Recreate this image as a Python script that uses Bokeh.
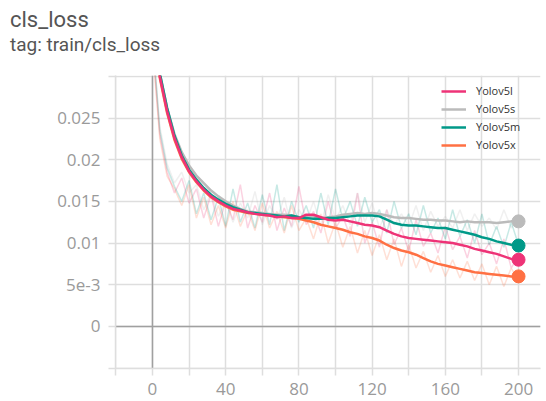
from bokeh.plotting import figure
from bokeh.models import Range1d, FixedTicker, Span, Legend, LegendItem, Div
from bokeh.layouts import column
from bokeh.embed import file_html
from bokeh.resources import INLINE

# ---------------- data ----------------
steps = list(range(0, 201, 4))
names = ["Yolov5l", "Yolov5s", "Yolov5m", "Yolov5x"]
colors = ["#ee3377", "#bbbbbb", "#009988", "#ff7043"]
title_text = "cls_loss"
subtitle_text = "tag: train/cls_loss"

smooth_l = [.0360, .0300, .0258, .0226, .0203, .0186, .0174, .0164, .0156, .0150, .0145, .0141, .0139, .0137, .0135, .0134, .0133, .0131, .0132, .0130, .0130,
            .0134, .0134, .0131, .0128, .0127, .0128, .0126, .0124, .0122, .0121, .0119, .0115, .0111, .0108, .0106, .0105, .0104, .0103, .0102, .0101,
            .0100, .0098, .0096, .0093, .0091, .0089, .0087, .0084, .0081, .0080]
smooth_s = [.0362, .0303, .0262, .0231, .0209, .0193, .0181, .0172, .0163, .0156, .0150, .0145, .0141, .0138, .0137, .0136, .0135, .0134, .0134, .0133, .0131,
            .0132, .0131, .0130, .0131, .0132, .0134, .0135, .0136, .0135, .0136, .0135, .0133, .0131, .0130, .0130, .0129, .0128, .0128, .0127, .0127,
            .0126, .0125, .0126, .0125, .0125, .0125, .0124, .0125, .0126, .0126]
smooth_m = [.0364, .0304, .0262, .0229, .0205, .0188, .0176, .0166, .0158, .0152, .0147, .0143, .0140, .0137, .0136, .0135, .0134, .0133, .0132, .0133, .0131,
            .0130, .0129, .0129, .0130, .0130, .0131, .0132, .0133, .0133, .0133, .0132, .0128, .0124, .0122, .0121, .0121, .0120, .0119, .0118, .0118,
            .0116, .0114, .0112, .0110, .0107, .0105, .0102, .0100, .0098, .0097]
smooth_x = [.0358, .0298, .0256, .0224, .0201, .0185, .0173, .0163, .0155, .0149, .0144, .0140, .0138, .0136, .0135, .0134, .0133, .0132, .0131, .0130, .0129,
            .0127, .0125, .0122, .0120, .0118, .0116, .0113, .0111, .0108, .0106, .0103, .0098, .0094, .0091, .0089, .0086, .0082, .0078, .0075, .0073,
            .0071, .0069, .0067, .0065, .0064, .0063, .0062, .0061, .0060, .0060]

raw_l = [.0340, .0230, .0185, .0160, .0178, .0148, .0165, .0130, .0158, .0120, .0150, .0128, .0170, .0118, .0145, .0125, .0160, .0115, .0142, .0120,
         .0168, .0122, .0138, .0112, .0150, .0118, .0132, .0108, .0160, .0100, .0125, .0095, .0140, .0098, .0118, .0090, .0128, .0096, .0112, .0088,
         .0120, .0092, .0108, .0082, .0115, .0086, .0100, .0075, .0105, .0070, .0085]
raw_s = [.0345, .0240, .0195, .0172, .0185, .0160, .0170, .0140, .0160, .0132, .0150, .0125, .0148, .0130, .0162, .0122, .0145, .0128, .0155, .0118,
         .0140, .0125, .0150, .0120, .0158, .0128, .0145, .0122, .0160, .0125, .0148, .0118, .0140, .0122, .0135, .0120, .0145, .0115, .0138, .0120,
         .0132, .0118, .0140, .0115, .0135, .0120, .0130, .0116, .0140, .0118, .0130]
raw_m = [.0350, .0235, .0190, .0168, .0150, .0175, .0135, .0160, .0128, .0155, .0120, .0165, .0125, .0148, .0118, .0158, .0122, .0170, .0115, .0150,
         .0125, .0145, .0118, .0160, .0122, .0165, .0128, .0150, .0120, .0155, .0125, .0140, .0112, .0150, .0118, .0135, .0110, .0145, .0112, .0130,
         .0105, .0140, .0108, .0128, .0100, .0135, .0098, .0120, .0095, .0125, .0098]
raw_x = [.0335, .0225, .0180, .0165, .0145, .0170, .0130, .0155, .0122, .0145, .0118, .0150, .0120, .0140, .0115, .0148, .0118, .0138, .0112, .0145,
         .0115, .0130, .0105, .0135, .0100, .0125, .0095, .0120, .0088, .0115, .0085, .0110, .0080, .0105, .0072, .0098, .0070, .0090, .0065, .0085,
         .0060, .0080, .0058, .0078, .0055, .0075, .0050, .0072, .0048, .0070, .0055]

x_ticks = [-20, 0, 20, 40, 60, 80, 100, 120, 140, 160, 180, 200]
x_tick_labels = ["", "0", "", "40", "", "80", "", "120", "", "160", "", "200"]
y_ticks = [-0.005, 0.0, 0.005, 0.01, 0.015, 0.02, 0.025, 0.03]
y_tick_labels = ["", "0", "5e-3", "0.01", "0.015", "0.02", "0.025", ""]

smooth = [smooth_l, smooth_s, smooth_m, smooth_x]
raw = [raw_l, raw_s, raw_m, raw_x]

# ---------------- header ----------------
header = Div(
    text=(f'<div style="font-family:Roboto;font-size:22px;line-height:26px;color:#555555;'
          f'padding-top:7px;padding-left:10px;white-space:nowrap;">{title_text}</div>'
          f'<div style="font-family:Roboto;font-size:19px;line-height:24px;color:#555555;'
          f'padding-left:10px;white-space:nowrap;">{subtitle_text}</div>'),
    width=546, height=70, margin=0)

# ---------------- figure ----------------
GRID = "#dedede"
TICKC = "#9a9a9a"

p = figure(width=546, height=331, output_backend="svg", toolbar_location=None,
           x_range=Range1d(-20.2, 212), y_range=Range1d(-0.00505, 0.0301),
           min_border_left=115, min_border_right=6, min_border_bottom=33, min_border_top=5,
           margin=0)
p.outline_line_color = None
p.background_fill_color = "white"
p.border_fill_color = "white"

p.xaxis.ticker = FixedTicker(ticks=x_ticks)
p.yaxis.ticker = FixedTicker(ticks=y_ticks)
p.xaxis.major_label_overrides = {t: l for t, l in zip(x_ticks, x_tick_labels)}
p.yaxis.major_label_overrides = {t: l for t, l in zip(y_ticks, y_tick_labels)}
for ax in (p.xaxis[0], p.yaxis[0]):
    ax.axis_line_color = GRID
    ax.axis_line_width = 1.5
    ax.major_tick_line_color = GRID
    ax.major_tick_line_width = 1.5
    ax.major_tick_out = 7
    ax.major_tick_in = 0
    ax.minor_tick_line_color = None
    ax.major_label_text_font = "Open Sans"
    ax.major_label_text_font_size = "17px"
    ax.major_label_text_color = TICKC
p.xaxis.major_label_standoff = 7
p.yaxis.major_label_standoff = 8

p.xgrid.ticker = FixedTicker(ticks=x_ticks)
p.ygrid.ticker = FixedTicker(ticks=y_ticks)
p.grid.grid_line_color = GRID
p.grid.grid_line_width = 1.5

p.add_layout(Span(location=0, dimension="height", line_color="#a0a0a0", line_width=1.5, level="underlay"))
p.add_layout(Span(location=0, dimension="width", line_color="#a0a0a0", line_width=1.5, level="underlay"))

for r, c in zip(raw, colors):
    p.line(steps, r, line_color=c, line_width=1.5, line_alpha=0.22)

rends = {}
for i in [1, 3, 2, 0]:
    rends[i] = p.line(steps, smooth[i], line_color=colors[i], line_width=2.5)
for i in [1, 3, 2, 0]:
    p.scatter([steps[-1]], [smooth[i][-1]], size=13, color=colors[i])

legend = Legend(items=[LegendItem(label=names[i], renderers=[rends[i]]) for i in range(4)],
                location=(326, 216), background_fill_alpha=0, border_line_color=None,
                label_text_font="Open Sans", label_text_font_size="11px", label_text_color="#333333",
                glyph_width=25, glyph_height=14, label_height=14, label_standoff=10,
                spacing=3, padding=4, margin=0)
p.add_layout(legend)

layout = column(header, p, spacing=0)
open("out.html", "w").write(file_html(layout, INLINE))
